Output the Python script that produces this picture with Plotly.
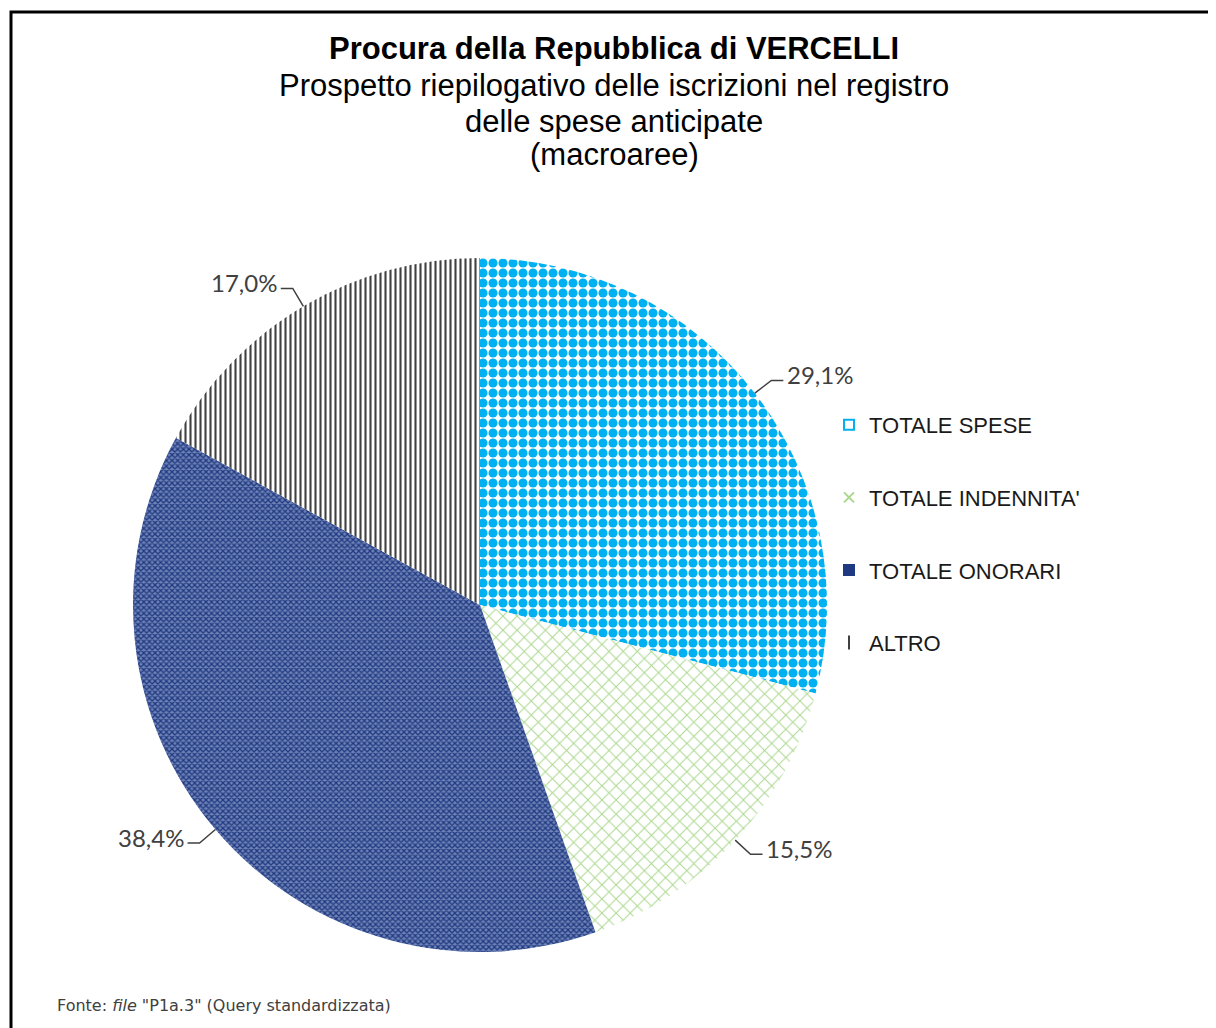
import math
import plotly.graph_objects as go

# data
categories = ["TOTALE SPESE", "TOTALE INDENNITA'", "TOTALE ONORARI", "ALTRO"]
percentages = [29.1, 15.5, 38.4, 17.0]

title_lines = [
    "<b>Procura della Repubblica di VERCELLI</b>",
    "Prospetto riepilogativo delle iscrizioni nel registro",
    "delle spese anticipate",
    "(macroaree)",
]
source_note = 'Fonte: <i>file</i> "P1a.3" (Query standardizzata)'

# styling
OFF = 8  # page body margin
W, H = 1216 - OFF, 1028 - OFF
fg_colors = ["#00B0F0", "#A9D78C", "#1F3A80", "#404040"]
bg_colors = ["#FFFFFF", "#FFFFFF", "#6F82B8", "#FFFFFF"]
shapes_pat = [".", "x", "x", "|"]
sizes_pat = [10, 10, 4, 5]
solid_pat = [0.65, 0.18, 0.55, 0.42]
legend_symbols = ["square-open", "x-thin-open", "square", "line-ns-open"]

# pie geometry in (reference) pixels
cx, cy, r = 480, 605, 347


def px(x, y):
    return (x - OFF) / W, 1 - (y - OFF) / H


fig = go.Figure()

dx0, dy1 = px(cx - r, cy - r)
dx1, dy0 = px(cx + r, cy + r)
fig.add_trace(go.Pie(
    labels=categories,
    values=percentages,
    sort=False,
    direction="clockwise",
    rotation=0,
    textinfo="none",
    hoverinfo="label+percent",
    showlegend=False,
    domain=dict(x=[dx0, dx1], y=[dy0, dy1]),
    marker=dict(
        colors=bg_colors,
        line=dict(width=0),
        pattern=dict(shape=shapes_pat, fgcolor=fg_colors, bgcolor=bg_colors,
                     size=sizes_pat, solidity=solid_pat, fillmode="replace"),
    ),
))

# legend via dummy traces (so spacing can be controlled)
for name, sym, col in zip(categories, legend_symbols, fg_colors):
    fig.add_trace(go.Scatter(
        x=[None], y=[None], mode="markers", name=name, legendgroup=name,
        marker=dict(symbol=sym, size=10, color=col, line=dict(width=2, color=col)),
    ))

# outside labels with leader lines
annotations = []
shapes = []
total = sum(percentages)
cum = 0
for v in percentages:
    mid = (cum + v / 2) / total * 2 * math.pi
    cum += v
    ex, ey = cx + r * math.sin(mid), cy - r * math.cos(mid)
    bx, by = cx + r * 1.06 * math.sin(mid), cy - r * 1.06 * math.cos(mid)
    side = 1 if math.sin(mid) >= 0 else -1
    hx = bx + side * 12
    p0, p1, p2 = px(ex, ey), px(bx, by), px(hx, by)
    shapes.append(dict(type="path", xref="paper", yref="paper",
                       path=f"M {p0[0]},{p0[1]} L {p1[0]},{p1[1]} L {p2[0]},{p2[1]}",
                       line=dict(color="#404040", width=1.5)))
    tx, ty = px(hx + side * 2, by - 6)
    annotations.append(dict(
        x=tx, y=ty, xref="paper", yref="paper", showarrow=False,
        xanchor="left" if side > 0 else "right", yanchor="middle",
        text=f"{v:.1f}".replace(".", ",") + "%",
        font=dict(family="Lato", size=24, color="#404040"),
    ))

# title lines
title_y = [49, 86, 121, 155]
for t, yy in zip(title_lines, title_y):
    tx, ty = px(614, yy)
    annotations.append(dict(
        x=tx, y=ty, xref="paper", yref="paper", showarrow=False,
        xanchor="center", yanchor="middle", text=t,
        font=dict(family="Liberation Sans", size=31, color="#000000"),
    ))

sx, sy = px(55, 1005)
annotations.append(dict(
    x=sx, y=sy, xref="paper", yref="paper", showarrow=False,
    xanchor="left", yanchor="middle", text=source_note,
    font=dict(family="DejaVu Sans", size=16, color="#404040"),
))

# frame (left and top edges visible)
fx0, fy1 = px(11, 12)
shapes.append(dict(type="rect", xref="paper", yref="paper",
                   x0=fx0, y0=-0.05, x1=1.05, y1=fy1,
                   line=dict(color="#000000", width=3)))

lx, ly = px(829, 404)
fig.update_layout(
    width=W, height=H,
    margin=dict(l=0, r=0, t=0, b=0),
    paper_bgcolor="white",
    plot_bgcolor="white",
    xaxis=dict(visible=False),
    yaxis=dict(visible=False),
    annotations=annotations,
    shapes=shapes,
    legend=dict(
        x=lx, y=ly, xanchor="left", yanchor="top",
        font=dict(family="Liberation Sans", size=22, color="#1A1A1A"),
        tracegroupgap=41, itemclick=False, bgcolor="rgba(0,0,0,0)",
    ),
    showlegend=True,
)

fig.write_html("out.html")
